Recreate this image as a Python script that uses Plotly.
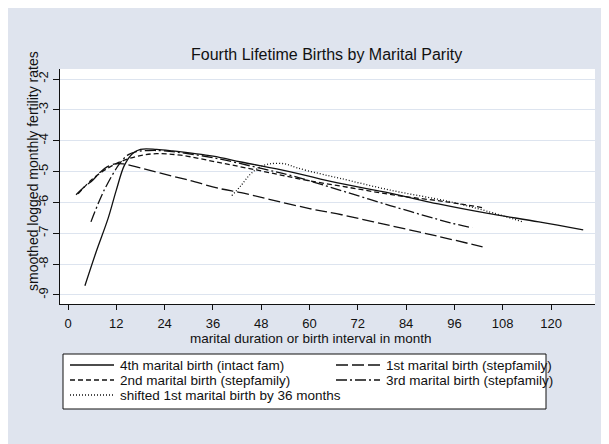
import plotly.graph_objects as go

# values
x_intact4 = [4.2, 7, 10, 12, 14, 16, 18, 22, 26, 36, 43, 55, 67, 80, 92, 104, 117, 128]
y_intact4 = [-8.7, -7.6, -6.5, -5.6, -4.8, -4.42, -4.28, -4.28, -4.33, -4.5, -4.69, -5.0,
             -5.37, -5.7, -6.05, -6.35, -6.63, -6.89]

x_step1 = [2, 4, 6.2, 8, 9.7, 11.7, 13.7, 18, 23, 30, 38, 43, 50, 60, 68, 80, 92, 103]
y_step1 = [-5.75, -5.5, -5.27, -5.02, -4.85, -4.75, -4.75, -4.88, -5.05, -5.28, -5.56, -5.68,
           -5.9, -6.2, -6.4, -6.75, -7.1, -7.44]

x_step2 = [2.5, 6, 10, 14, 18, 22, 28, 38, 48, 58, 70, 82, 94, 103]
y_step2 = [-5.72, -5.25, -4.88, -4.63, -4.48, -4.42, -4.47, -4.72, -4.98, -5.25, -5.52, -5.78,
           -5.98, -6.17]

x_step3 = [5.7, 9, 12.9, 15, 17, 20, 24, 36, 48, 56, 65, 80, 95, 100.4]
y_step3 = [-6.63, -5.6, -4.73, -4.45, -4.35, -4.32, -4.33, -4.55, -4.9, -5.15, -5.5, -6.1,
           -6.66, -6.82]

x_shift1 = [40.7, 43, 45.2, 47.7, 50.2, 53.9, 56.9, 62.6, 67.6, 80, 95, 104, 113]
y_shift1 = [-5.78, -5.45, -5.1, -4.85, -4.75, -4.75, -4.88, -5.07, -5.22, -5.6, -5.98,
            -6.28, -6.63]

x_ticks = list(range(0, 121, 12))
y_ticks = [-9, -8, -7, -6, -5, -4, -3, -2]

SERIES = [
    ('4th marital birth (intact fam)', x_intact4, y_intact4, 'solid'),
    ('1st marital birth (stepfamily)', x_step1, y_step1, '12px,4px'),
    ('2nd marital birth (stepfamily)', x_step2, y_step2, '5px,3px'),
    ('3rd marital birth (stepfamily)', x_step3, y_step3, '11px,3px,2px,3px'),
    ('shifted 1st marital birth by 36 months', x_shift1, y_shift1, '1px,2px'),
]

FONT = 'Arial, Liberation Sans, sans-serif'
GRAY = '#dfe4ee'
INK = '#111111'

# page body has an 8px margin; figure fills the rest of the window
OFF = 8
W, H = 609 - OFF, 444 - OFF
# plot area in window pixels
L, R, T, B = 60, 595, 69, 304


def px(x):
    return (x - L) / (R - L)


def py(y):
    return (B - y) / (B - T)


fig = go.Figure()
for name, xs, ys, dash in SERIES:
    fig.add_trace(go.Scatter(x=xs, y=ys, mode='lines', name=name, line_shape='spline',
                             line=dict(color=INK, width=1.3, dash=dash)))

shapes = [
    # legend box
    dict(type='rect', xref='paper', yref='paper',
         x0=px(63), x1=px(546), y0=py(409), y1=py(354), fillcolor='white',
         line=dict(color=INK, width=1)),
]

annotations = [
    dict(text='Fourth Lifetime Births by Marital Parity', x=px(326), y=py(54),
         font=dict(size=16)),
    dict(text='smoothed logged monthly fertility rates', x=px(33), y=py(171),
         textangle=-90, font=dict(size=14)),
    dict(text='marital duration or birth interval in month', x=px(311), y=py(338),
         font=dict(size=13.5)),
]

# legend rows/cols (window pixel positions)
slots = [(70, 365), (336, 365), (70, 380), (336, 380), (70, 395)]
for (name, _, _, dash), (sx, sy) in zip(SERIES, slots):
    shapes.append(dict(type='line', xref='paper', yref='paper',
                       x0=px(sx), x1=px(sx + 44), y0=py(sy), y1=py(sy),
                       line=dict(color=INK, width=1.3, dash=dash)))
    annotations.append(dict(text=name, x=px(sx + 49), y=py(sy), xanchor='left',
                            font=dict(size=13.5), borderpad=0))

for a in annotations:
    a.update(xref='paper', yref='paper', showarrow=False)
    a.setdefault('xanchor', 'center')
    a.setdefault('yanchor', 'middle')
    a['font'].update(family=FONT, color=INK)

fig.update_layout(
    width=W, height=H,
    margin=dict(l=L - OFF, r=W - (R - OFF), t=T - OFF, b=H - (B - OFF), pad=0),
    paper_bgcolor=GRAY,
    plot_bgcolor='white',
    font=dict(family=FONT, size=13, color=INK),
    showlegend=False,
    shapes=shapes,
    annotations=annotations,
)
fig.update_xaxes(
    range=[-1.99, 130.93], tickvals=x_ticks, ticks='outside', ticklen=5,
    tickcolor=INK, showline=True, linecolor=INK, linewidth=1.2,
    showgrid=False, zeroline=False, tickfont=dict(size=13), ticklabelstandoff=2,
)
fig.update_yaxes(
    range=[-9.292, -1.676], tickvals=y_ticks, ticktext=[str(v) for v in y_ticks],
    tickangle=-90, ticks='outside', ticklen=6, tickcolor=INK,
    showline=True, linecolor=INK, linewidth=1.2,
    showgrid=True, gridcolor='#dde4ef', gridwidth=1.2, zeroline=False,
    tickfont=dict(size=13),
)

fig.write_html('out.html')
